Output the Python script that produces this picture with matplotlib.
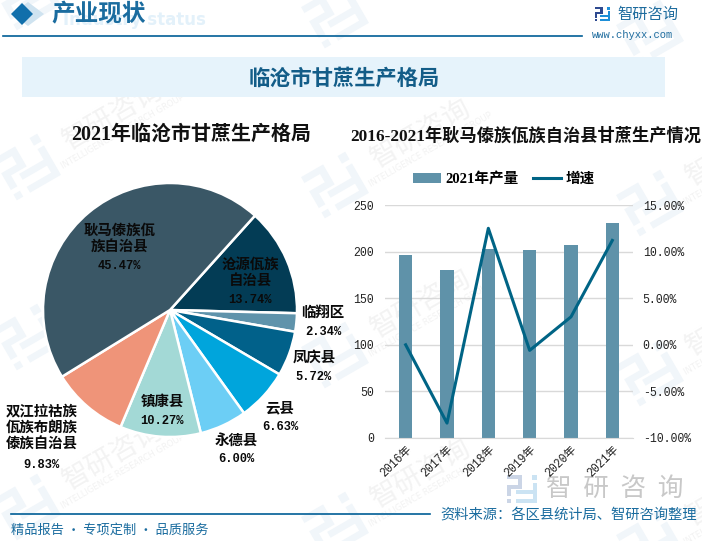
import matplotlib
matplotlib.use('Agg')
import matplotlib.pyplot as plt
from matplotlib.patches import Polygon, Rectangle
from matplotlib.transforms import Affine2D

W, H = 702, 541
CJK = 'Noto Sans CJK SC'
MIX = ['Liberation Mono', CJK]
plt.rcParams['font.family'] = [CJK, 'DejaVu Sans']

# 饼图数据
regions = ['沧源佤族\n自治县', '临翔区', '凤庆县', '云县', '永德县', '镇康县',
           '双江拉祜族\n佤族布朗族\n傣族自治县', '耿马傣族佤\n族自治县']
shares = [13.74, 2.34, 5.72, 6.63, 6.00, 10.27, 9.83, 45.47]
pie_colors = ['#033C55', '#5F93AB', '#01618A', '#00A5DC', '#6CCEF5', '#A3D9D6', '#EF9479', '#3A5766']
name_pos = [(250, 273), (323, 313), (314, 358), (280, 408), (236, 441), (162, 402), (42, 428), (119, 239)]
share_y = [300, 332, 377, 427, 459, 421, 465, 266]

# 柱线图数据
years = ['2016年', '2017年', '2018年', '2019年', '2020年', '2021年']
output = [196.5, 180.5, 203, 202, 207, 230.5]
growth = [0.0, -8.4, 12.5, -0.6, 3.0, 11.2]
left_ticks = [0, 50, 100, 150, 200, 250]
right_ticks = [-10, -5, 0, 5, 10, 15]


def rect_of(x0, y0, x1, y1):
    return [x0 / W, 1 - y1 / H, (x1 - x0) / W, (y1 - y0) / H]


fig = plt.figure(figsize=(W / 100, H / 100), dpi=100, facecolor='white')

# 底层：水印和页眉
bg = fig.add_axes([0, 0, 1, 1], zorder=0)
bg.set_xlim(0, W)
bg.set_ylim(H, 0)
bg.axis('off')


def logo(ax, cx, cy, s, c1, c2, angle=0, z=1):
    # 智研咨询的方块标志，以中心定位
    dark = [[(0, 0), (7.5, 0), (7.5, 6.8), (2.2, 6.8), (2.2, 10.5), (0, 10.5), (0, 4.8), (5.3, 4.8), (5.3, 2), (0, 2)],
            [(0, 12), (2.2, 12), (2.2, 14), (0, 14)]]
    light = [[(12.4, 0), (15, 0), (15, 2.6), (12.4, 2.6)],
             [(12.8, 4), (15, 4), (15, 14), (4.5, 14), (4.5, 12), (12.8, 12), (12.8, 9.6), (4.5, 9.6), (4.5, 7.6), (12.8, 7.6)]]
    tr = Affine2D().translate(-7.5, -7).scale(s).rotate_deg(angle).translate(cx, cy) + ax.transData
    for p in dark:
        ax.add_patch(Polygon(p, closed=True, facecolor=c1, edgecolor='none', transform=tr, zorder=z))
    for p in light:
        ax.add_patch(Polygon(p, closed=True, facecolor=c2, edgecolor='none', transform=tr, zorder=z))


# 水印平铺
for col, lx in enumerate([27, 335, 650]):
    for row in range(-1, 3):
        ly = 167 + col * 18 + row * 170
        logo(bg, lx, ly, 3.4, '#F1F6FA', '#F1F6FA', angle=-30)
        if ly - 52 < 30:
            continue
        bg.text(lx + 86, ly - 52, '智研咨询', fontsize=20, color='#F3F3F3', rotation=30, rotation_mode='anchor',
                ha='center', va='center', zorder=1)
        bg.text(lx + 96, ly - 35, 'INTELLIGENCE RESEARCH GROUP', fontsize=6, color='#F2F2F2', family='DejaVu Sans',
                rotation=30, rotation_mode='anchor', ha='center', va='center', zorder=1)

# 页眉
bg.add_patch(Polygon([(28, 2), (44, 14), (28, 26), (12, 14)], facecolor='#CFE3F0', edgecolor='none', zorder=2))
bg.add_patch(Polygon([(22, 3), (33, 14), (22, 25), (11, 14)], facecolor='#116FAB', edgecolor='none', zorder=3))
bg.text(63, 20, 'Industry status', fontsize=12, color='#E3F1FA', fontweight='bold', family='DejaVu Sans', va='center', zorder=2)
bg.text(51, 14, '产业现状', fontsize=17, color='#1A6C9F', fontweight='bold', va='center', zorder=3)
bg.plot([3, 582], [36, 36], color='#005E96', lw=1.2, zorder=3)
logo(bg, 602.5, 14, 1.0, '#2E4A90', '#1E8FD8', z=3)
bg.text(617, 14, '智研咨询', fontsize=11, color='#1E6C9E', va='center', zorder=3)
bg.text(592, 35, 'www.chyxx.com', fontsize=7.6, color='#1E6C9E', family='Liberation Mono', va='center', zorder=3)

# 标题条
bg.add_patch(Rectangle((22, 57), 643, 40, facecolor='#E6F3FB', edgecolor='none', zorder=2))
bg.text(344, 78, '临沧市甘蔗生产格局', fontsize=15.3, color='#135D88', fontweight='bold', ha='center', va='center', zorder=3)
bg.text(191, 135, '2021年临沧市甘蔗生产格局', fontsize=14.4, color='#111111', fontweight='bold', family=['Liberation Serif', CJK],
        ha='center', va='center', zorder=3)
bg.text(526, 136, '2016-2021年耿马傣族佤族自治县甘蔗生产情况', fontsize=12.4, color='#111111', fontweight='bold',
        family=['Liberation Serif', CJK], ha='center', va='center', zorder=3)

# 页脚
bg.plot([11, 430], [514, 514], color='#005E96', lw=1.2, zorder=3)
bg.text(11, 530, '精品报告 · 专项定制 · 品质服务', fontsize=9.5, color='#1A6C9F', va='center', zorder=3)
bg.text(697, 515, '资料来源：各区县统计局、智研咨询整理', fontsize=10.3, color='#1A6C9F', ha='right', va='center', zorder=3)
logo(bg, 522, 489, 2.0, '#CBD5E6', '#CBE3F3', z=1)
bg.text(615, 489, '智  研  咨  询', fontsize=18.5, color='#C8C8C8', ha='center', va='center', zorder=1)

# 饼图
ax_pie = fig.add_axes(rect_of(43, 183, 297, 437), zorder=2)
ax_pie.patch.set_alpha(0)
ax_pie.pie(shares, colors=pie_colors, startangle=48, counterclock=False, radius=1,
           wedgeprops={'edgecolor': 'white', 'linewidth': 1.8})
ax_pie.set_xlim(-1, 1)
ax_pie.set_ylim(-1, 1)

# 柱线图
ax_bar = fig.add_axes(rect_of(385, 205, 633, 438), zorder=2)
ax_bar.patch.set_alpha(0)
ax_bar.bar(years, output, width=0.315, color='#5F92A9', label='2021年产量', zorder=2)
ax_bar.set_xlim(-0.5, 5.5)
ax_bar.set_ylim(0, 250)
ax_bar.set_yticks(left_ticks)
ax_bar.grid(axis='y', color='#D9D9D9', lw=1, zorder=1)
ax_bar.set_axisbelow(True)
for s in ax_bar.spines.values():
    s.set_visible(False)
ax_bar.spines['bottom'].set_visible(True)
ax_bar.spines['bottom'].set_color('#D9D9D9')
ax_bar.tick_params(length=0, axis='both')
ax_bar.tick_params(axis='y', pad=8, labelsize=8.3, labelcolor='#222222')
ax_bar.tick_params(axis='x', pad=4, labelsize=8.3, labelcolor='#222222')
for t in ax_bar.get_yticklabels():
    t.set_family(MIX)
for t in ax_bar.get_xticklabels():
    t.set_family(MIX)
    t.set_rotation(45)
    t.set_ha('right')
    t.set_rotation_mode('anchor')

ax_line = ax_bar.twinx()
ax_line.plot(years, growth, color='#006485', lw=2.2, label='增速', zorder=3)
ax_line.set_ylim(-10, 15)
ax_line.set_yticks(right_ticks)
ax_line.set_yticklabels([f'{v:.2f}%' for v in right_ticks], family=MIX, fontsize=8.3, color='#222222')
ax_line.tick_params(length=0, pad=7)
for s in ax_line.spines.values():
    s.set_visible(False)

h1, l1 = ax_bar.get_legend_handles_labels()
h2, l2 = ax_line.get_legend_handles_labels()
leg = fig.legend(h1 + h2, l1 + l2, ncol=2, frameon=False, loc='center', bbox_to_anchor=(504 / W, 1 - 179 / H),
                 prop={'family': ['Liberation Serif', CJK], 'weight': 'bold', 'size': 10.5},
                 handlelength=1.9, handletextpad=0.3, columnspacing=1.0)

# 顶层：饼图标签
top = fig.add_axes([0, 0, 1, 1], zorder=5)
top.set_xlim(0, W)
top.set_ylim(H, 0)
top.axis('off')
for name, val, (px, py), sy in zip(regions, shares, name_pos, share_y):
    top.text(px, py, name, fontsize=10.4, color='#0A0A0A', ha='center', va='center', linespacing=1.2, fontweight='bold')
    top.text(px, sy, f'{val:.2f}%', fontsize=8.7, color='#0A0A0A', fontweight='bold',
             family='Liberation Mono', ha='center', va='center')

fig.savefig('out.png', dpi=100)
